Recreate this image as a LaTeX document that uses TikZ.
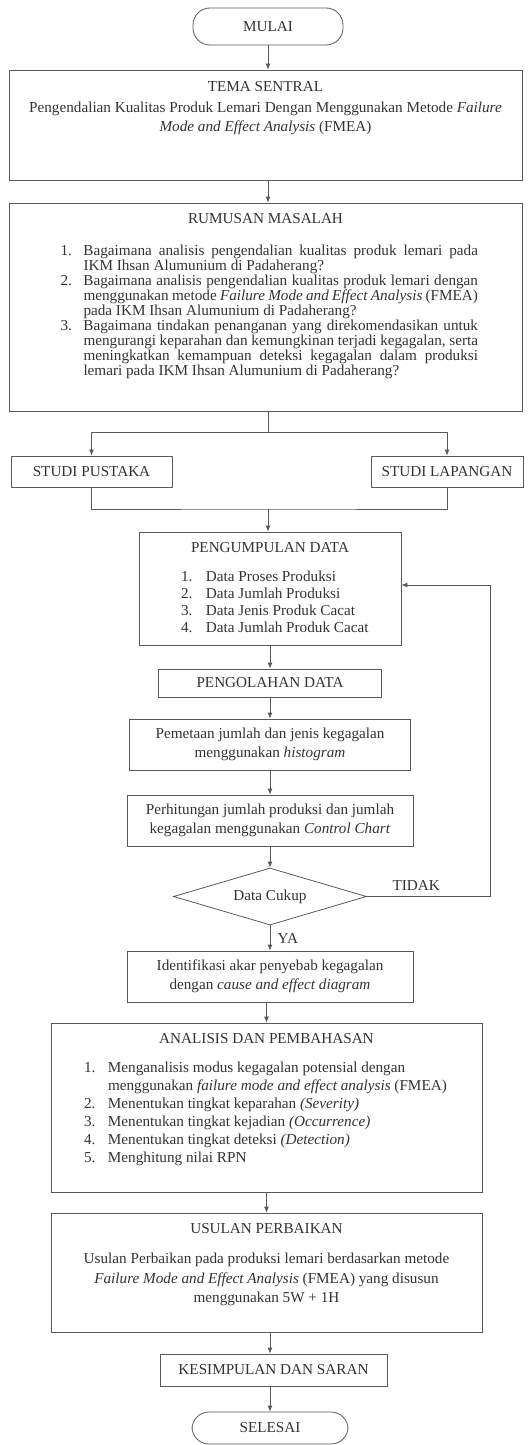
\documentclass[tikz,border=0pt]{standalone}
\usepackage{fontspec}
\setmainfont{Liberation Serif}
\usetikzlibrary{arrows.meta,shapes.geometric}
\hyphenpenalty=10000
\tolerance=10000
\newlength{\numw}
\newcommand{\numitem}[2]{\par\noindent\hspace*{-\numw}\makebox[\numw][l]{#1}#2\par}
\begin{document}
\begin{tikzpicture}[x=1pt, y=-1pt,
  every node/.style={font=\fontsize{15.2}{18.5}\selectfont, text=black!80},
  box/.style={draw=black!65, line width=0.8pt, rectangle, inner sep=0pt},
  twoline/.style={box, align=center},
  terminal/.style={box, rounded corners=17pt},
  decision/.style={box, diamond, aspect=3.4},
  arrow/.style={draw=black!65, line width=0.8pt, -{Latex[length=6pt, width=5pt]}},
  link/.style={draw=black!65, line width=0.8pt}]
  \useasboundingbox (0,0) rectangle (530,1445);
  \node[terminal, minimum width=150, minimum height=37] (mulai) at (268,26.5) {MULAI};
  \node[box] (tema) at (265.5,125) {\parbox[c][110pt][t]{513pt}{\vspace*{11pt}\centering TEMA SENTRAL\par
    \vspace{3pt}Pengendalian Kualitas Produk Lemari Dengan Menggunakan Metode \textit{Failure}\\
    \textit{Mode and Effect Analysis} (FMEA)}};
  \node[box] (rumusan) at (265.5,307) {\parbox[c][208pt][t]{513pt}{\vspace*{10pt}\centering RUMUSAN MASALAH\par
    \vspace{17pt}\leftskip=74.5pt \rightskip=44pt \parfillskip=0pt plus 1fil \baselineskip=15pt \numw=23pt
    \numitem{1.}{Bagaimana analisis pengendalian kualitas produk lemari pada\linebreak
      IKM Ihsan Alumunium di Padaherang?}
    \numitem{2.}{Bagaimana analisis pengendalian kualitas produk lemari dengan\linebreak
      menggunakan metode \textit{Failure Mode and Effect Analysis} (FMEA)\linebreak
      pada IKM Ihsan Alumunium di Padaherang?}
    \numitem{3.}{Bagaimana tindakan penanganan yang direkomendasikan untuk\linebreak
      mengurangi keparahan dan kemungkinan terjadi kegagalan, serta\linebreak
      meningkatkan kemampuan deteksi kegagalan dalam produksi\linebreak
      lemari pada IKM Ihsan Alumunium di Padaherang?}}};
  \coordinate (split) at (268,432);
  \node[box, minimum width=161, minimum height=31] (pustaka) at (91.5,471.5) {STUDI PUSTAKA};
  \node[box, minimum width=152, minimum height=31] (lapangan) at (447,471.5) {STUDI LAPANGAN};
  \coordinate (join) at (268,509);
  \node[box] (kumpul) at (270,588.5) {\parbox[c][113pt][t]{262pt}{\vspace*{10pt}\centering PENGUMPULAN DATA\par
    \vspace{12pt}\leftskip=67pt \rightskip=0pt plus 1fil \parfillskip=0pt plus 1fil \baselineskip=17pt \numw=25pt
    \numitem{1.}{Data Proses Produksi}
    \numitem{2.}{Data Jumlah Produksi}
    \numitem{3.}{Data Jenis Produk Cacat}
    \numitem{4.}{Data Jumlah Produk Cacat}}};
  \node[box, minimum width=223, minimum height=28] (olah) at (270,683) {PENGOLAHAN DATA};
  \node[twoline, minimum width=281, minimum height=51] (petakan) at (270,744.5) {Pemetaan jumlah dan jenis kegagalan\\ menggunakan \textit{histogram}};
  \node[twoline, minimum width=286, minimum height=51] (hitung) at (270,820.5) {Perhitungan jumlah produksi dan jumlah\\ kegagalan menggunakan \textit{Control Chart}};
  \node[decision, minimum width=193, minimum height=57] (cukup) at (270,896.5) {Data Cukup};
  \coordinate (loop) at (490,585);
  \node[twoline, minimum width=286, minimum height=51] (akar) at (270,976.5) {Identifikasi akar penyebab kegagalan\\ dengan \textit{cause and effect diagram}};
  \node[box] (analisis) at (266.5,1107.5) {\parbox[c][169pt][t]{431pt}{\vspace*{10pt}\centering ANALISIS DAN PEMBAHASAN\par
    \vspace{11pt}\leftskip=57pt \rightskip=0pt plus 1fil \parfillskip=0pt plus 1fil \baselineskip=18pt \numw=24pt
    \numitem{1.}{Menganalisis modus kegagalan potensial dengan\newline
      menggunakan \textit{failure mode and effect analysis} (FMEA)}
    \numitem{2.}{Menentukan tingkat keparahan \textit{(Severity)}}
    \numitem{3.}{Menentukan tingkat kejadian \textit{(Occurrence)}}
    \numitem{4.}{Menentukan tingkat deteksi \textit{(Detection)}}
    \numitem{5.}{Menghitung nilai RPN}}};
  \node[box] (usulan) at (266.5,1272.5) {\parbox[c][119pt][t]{431pt}{\vspace*{10pt}\centering USULAN PERBAIKAN\par
    \vspace{11pt}\baselineskip=19.5pt Usulan Perbaikan pada produksi lemari berdasarkan metode\\
    \textit{Failure Mode and Effect Analysis} (FMEA) yang disusun\\
    menggunakan 5W + 1H}};
  \node[box, minimum width=227, minimum height=32] (simpul) at (273.5,1370) {KESIMPULAN DAN SARAN};
  \node[terminal, minimum width=156, minimum height=32] (selesai) at (270,1428) {SELESAI};
  \draw[arrow] (mulai.south) -- (mulai.south |- tema.north);
  \draw[arrow] (mulai |- tema.south) -- (mulai |- rumusan.north);
  \draw[link] (mulai |- rumusan.south) -- (split);
  \draw[link] (pustaka |- split) -- (lapangan |- split);
  \draw[arrow] (pustaka |- split) -- (pustaka.north);
  \draw[arrow] (lapangan |- split) -- (lapangan.north);
  \draw[link] (pustaka.south) |- (join) -| (lapangan.south);
  \draw[arrow] (join) -- (join |- kumpul.north);
  \draw[arrow] (kumpul.south) -- (olah.north);
  \draw[arrow] (olah.south) -- (petakan.north);
  \draw[arrow] (petakan.south) -- (hitung.north);
  \draw[arrow] (hitung.south) -- (cukup.north);
  \draw[arrow] (cukup.east) -- node[above, pos=0.4, yshift=2] (tidak) {TIDAK} (cukup.east -| loop) -- (loop) -- (kumpul.east |- loop);
  \draw[arrow] (cukup.south) -- node[right, xshift=4] (ya) {YA} (akar.north);
  \draw[arrow] (akar.south -| analisis) -- (analisis.north);
  \draw[arrow] (analisis.south) -- (usulan.north);
  \draw[arrow] (usulan.south -| selesai) -- (simpul.north -| selesai);
  \draw[arrow] (simpul.south -| selesai) -- (selesai.north);
\end{tikzpicture}
\end{document}
